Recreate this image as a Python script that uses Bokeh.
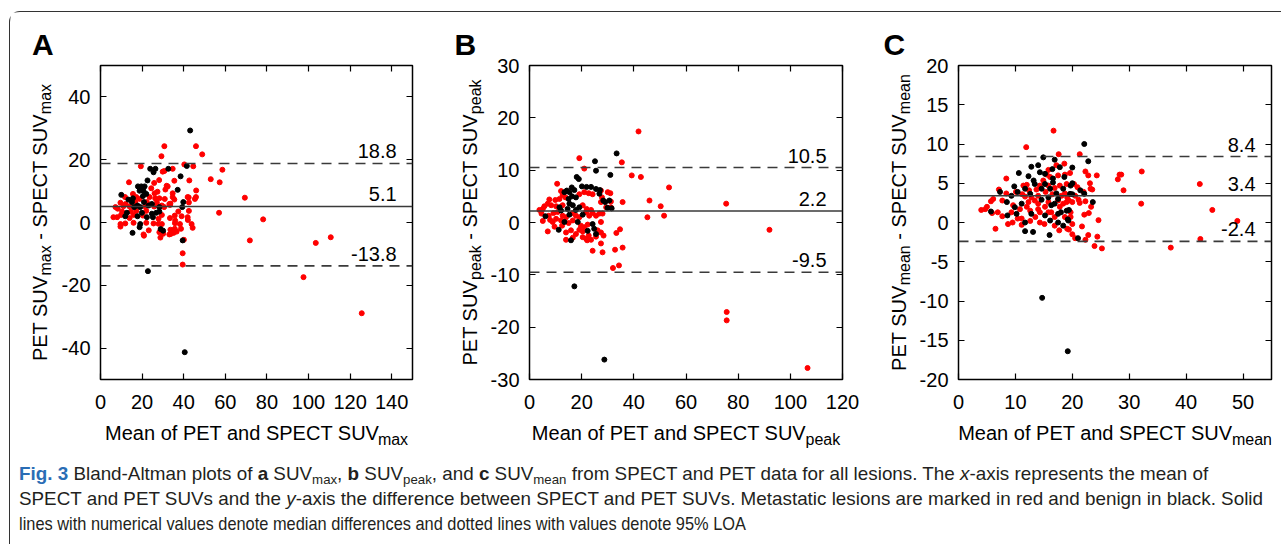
from bokeh.plotting import figure
from bokeh.models import Label, Span, LinearAxis, FixedTicker, Div, Range1d
from bokeh.layouts import row, column
from bokeh.embed import file_html
from bokeh.resources import INLINE

# ---------------- data ----------------
A_METASTATIC = [
    (125.6, -28.9), (97.6, -17.4), (103.5, -6.5), (110.7, -4.7), (69.4, 7.9), (78.2, 1.0), (71.8, -5.7),
    (57.0, 3.1), (57.3, 12.8), (53.0, 13.8), (58.6, 16.8), (48.9, 21.7), (45.9, 24.3), (30.7, 24.3),
    (29.3, 21.1), (44.6, 17.9), (46.0, 10.2), (45.9, 8.1), (42.7, 13.4), (42.4, 8.0), (42.5, 6.4),
    (42.5, 3.7), (42.0, 0.8), (44.3, -1.7), (40.1, -5.5), (39.5, -9.8), (39.5, -13.4), (38.7, -2.0),
    (35.7, -2.0), (35.9, 0.6), (35.7, 2.2), (33.6, -2.3), (33.1, -3.8), (35.2, -3.3), (28.8, -4.8),
    (30.1, -3.6), (23.2, -2.5), (20.9, -4.2), (9.6, -1.3), (6.2, 1.7), (35.5, 7.3), (35.5, 13.3),
    (34.7, 8.1), (33.6, 6.0), (31.2, 10.5), (31.8, 11.7), (30.7, 16.4), (28.2, 13.5), (27.4, 9.8),
    (19.4, 17.9), (13.7, 12.8), (40.3, 18.5), (29.9, 16.2), (34.7, 17.1), (25.8, 12.6), (24.4, 10.9),
    (32.3, 11.5), (15.6, 9.1), (26.0, 9.3), (34.7, 9.3), (41.9, 8.1), (11.8, 8.1), (17.2, 8.1),
    (18.8, 7.5), (23.6, 8.1), (26.3, 7.7), (28.3, 7.7), (30.9, 7.5), (33.1, 5.9), (45.4, 7.5),
    (9.6, 6.3), (12.1, 5.9), (16.7, 6.5), (22.3, 6.5), (27.1, 6.3), (29.5, 5.4), (33.4, 5.6),
    (7.2, 4.9), (11.1, 5.2), (14.0, 5.1), (21.5, 5.1), (25.8, 5.1), (30.6, 4.9), (8.3, 4.4),
    (10.4, 3.5), (14.6, 3.5), (17.2, 3.7), (22.0, 3.7), (29.5, 2.4), (37.4, 3.5), (39.0, 2.0),
    (8.0, 1.7), (9.9, 2.4), (14.0, 1.4), (15.9, 2.4), (20.4, 2.2), (27.9, 1.2), (33.4, 1.4),
    (41.9, 1.7), (9.6, -0.5), (11.9, -0.3), (15.9, -0.1), (22.0, -0.1), (25.5, -0.3), (27.9, -0.4),
    (29.5, -0.5), (35.8, -0.2), (38.2, -0.5), (43.8, -0.5), (20.7, -3.8), (28.3, -3.1), (29.9, -3.1),
    (33.9, -3.6), (36.6, -2.9),
]
A_BENIGN = [
    (43.1, 29.3), (40.5, -41.3), (22.8, -15.5), (39.5, -5.7), (41.5, 18.0), (38.5, 14.7), (37.1, 10.4),
    (23.9, 17.1), (26.4, 17.1), (32.6, 17.1), (25.5, 16.0), (22.6, 13.4), (18.0, 11.5), (19.6, 11.5),
    (21.2, 11.5), (10.0, 8.8), (18.8, 10.1), (20.7, 10.0), (22.0, 9.1), (13.4, 7.3), (15.6, 7.7),
    (20.4, 8.4), (39.8, 6.5), (15.1, 6.5), (20.9, 6.5), (24.7, 5.9), (16.2, 4.9), (17.8, 5.4),
    (19.1, 4.9), (23.1, 5.4), (28.3, 4.9), (39.3, 4.9), (12.7, 3.1), (19.9, 3.1), (24.7, 2.8),
    (26.8, 3.1), (28.3, 3.5), (11.9, 2.0), (17.8, 2.0), (22.3, 1.7), (25.2, 1.7), (19.1, -0.5),
    (15.4, -3.3), (18.8, -1.5), (30.1, -2.6), (28.9, -2.1),
]
A_LINES = [18.8, 5.1, -13.8]          # upper LOA, median, lower LOA
A_XRANGE = (0, 150)
A_YRANGE = (-50, 50)
A_XTICKS = [0, 20, 40, 60, 80, 100, 120, 140]
A_YTICKS = [-40, -20, 0, 20, 40]

B_METASTATIC = [
    (41.8, 17.4), (19.1, 12.3), (21.0, 10.3), (35.4, 11.5), (39.2, 9.0), (42.7, 8.7), (53.5, 6.7),
    (46.0, 4.2), (35.7, 3.9), (50.3, 3.1), (51.6, 1.3), (45.2, 1.0), (75.4, 3.6), (92.0, -1.4),
    (75.6, -17.1), (75.6, -18.7), (106.6, -27.8), (32.0, -8.7), (34.3, -8.2), (32.8, -5.2),
    (35.7, -4.8), (28.0, -5.7), (24.2, -5.4), (27.4, -4.0), (33.3, -2.0), (34.7, -1.3), (28.4, -2.5),
    (29.4, 2.9), (31.2, 4.0), (31.0, 5.6), (30.0, 5.8), (27.4, 6.1), (28.0, 1.7), (27.4, 0.1),
    (14.0, -3.3), (16.6, -2.9), (20.4, -2.8), (22.1, -3.4), (10.6, 7.4), (7.6, 4.4), (7.0, -1.7),
    (12.1, 6.0), (12.7, 5.2), (13.8, 4.8), (11.5, 4.5), (9.9, 4.3), (22.7, 5.6), (24.2, 5.4),
    (21.0, 5.8), (19.1, 5.4), (27.8, 4.8), (27.4, 3.9), (7.0, 3.6), (5.7, 3.1), (5.1, 2.6),
    (3.8, 2.4), (4.6, 1.7), (7.4, 1.3), (7.9, 0.5), (5.1, 0.3), (8.9, 0.1), (9.6, -0.8),
    (8.3, 3.3), (10.2, 3.1), (12.7, 3.3), (20.4, 3.3), (21.9, 2.6), (23.6, 2.4), (24.2, 1.8),
    (25.5, 1.3), (26.8, 1.7), (31.2, 2.9), (9.2, 1.8), (10.8, 2.0), (12.7, 1.3), (14.0, 1.0),
    (16.6, 1.8), (17.8, 1.3), (19.1, 1.0), (21.7, 2.0), (22.9, 1.3), (10.2, 0.7), (12.1, 0.4),
    (15.0, -0.1), (16.6, 0.4), (19.7, -0.6), (21.0, -0.9), (22.3, -0.4), (26.1, -1.5), (12.5, -0.6),
    (14.0, -1.9), (15.9, -1.5), (17.8, -2.2), (19.1, -1.4), (20.4, -1.7), (22.7, -2.5), (27.4, -1.9),
    (21.7, -3.1), (23.6, -3.3), (25.5, -2.7),
]
B_BENIGN = [
    (33.4, 13.2), (25.1, 11.7), (25.5, 9.9), (31.0, 9.1), (18.1, 8.7), (18.9, 8.3), (17.2, -12.2),
    (28.7, -26.2), (31.5, 2.7), (29.0, 3.9), (16.2, 6.7), (20.1, 6.9), (21.9, 6.8), (23.6, 6.8),
    (25.5, 6.4), (27.0, 6.2), (17.2, 6.2), (14.3, 6.1), (15.3, 5.8), (13.4, 5.8), (17.8, 4.8),
    (16.3, 5.0), (15.0, 4.5), (28.3, 4.2), (30.6, 4.2), (26.8, 5.5), (6.1, 1.2), (11.5, 2.9),
    (12.1, 2.3), (14.6, 2.6), (15.3, 3.6), (16.6, 3.3), (17.8, 2.4), (19.1, 2.9), (29.9, 2.8),
    (15.3, 1.5), (20.4, 1.5), (13.4, 0.1), (18.5, 0.1), (24.2, -0.3), (24.8, -1.2), (11.2, -1.4),
    (25.5, -2.2), (15.9, -3.4), (22.3, -1.6),
]
B_LINES = [10.5, 2.2, -9.5]
B_XRANGE = (0, 120)
B_YRANGE = (-30, 30)
B_XTICKS = [0, 20, 40, 60, 80, 100, 120]
B_YTICKS = [-30, -20, -10, 0, 10, 20, 30]

C_METASTATIC = [
    (16.7, 11.7), (11.9, 9.6), (17.6, 8.7), (21.3, 8.7), (28.0, 5.5), (28.3, 6.1), (28.6, 6.1),
    (29.0, 4.1), (32.2, 6.5), (32.1, 2.4), (37.3, -3.2), (42.4, 4.9), (42.5, -2.1), (44.6, 1.6),
    (49.0, 0.2), (24.3, 6.0), (24.6, 0.3), (24.4, -1.8), (25.2, -3.3), (23.9, -3.0), (4.0, 1.6),
    (5.0, 2.0), (5.7, 2.7), (5.9, 1.2), (6.5, -0.8), (6.9, 1.3), (7.1, 4.2), (7.7, 2.8), (8.4, 5.6),
    (8.4, 3.7), (8.7, -0.2), (17.2, 7.3), (18.6, 7.5), (15.8, 6.7), (15.5, 6.1), (16.1, 5.8),
    (17.5, 6.0), (18.7, 6.1), (10.1, 3.9), (11.4, 4.7), (12.0, 4.8), (12.4, 4.1), (13.7, 4.2),
    (14.3, 4.7), (14.9, 5.35), (15.8, 4.7), (16.9, 4.4), (17.8, 4.7), (19.0, 4.9), (11.2, 3.6),
    (11.7, 3.3), (12.8, 3.2), (14.0, 3.4), (15.3, 3.9), (16.5, 3.6), (18.1, 3.4), (18.7, 3.7),
    (19.1, 3.2), (6.1, 3.0), (4.7, 1.7), (9.6, 2.2), (10.8, 1.7), (12.0, 2.0), (12.3, 2.6),
    (13.4, 2.8), (14.0, 2.4), (15.2, 2.0), (15.8, 2.6), (17.5, 2.8), (17.8, 2.0), (18.4, 2.4),
    (19.0, 2.6), (7.7, 0.8), (9.3, 1.3), (10.4, 0.5), (11.1, 0.5), (12.6, 1.5), (14.0, 1.7),
    (14.3, 1.3), (15.8, 1.3), (16.3, 1.3), (16.9, 0.7), (18.7, 0.7), (9.5, 0.0), (11.1, -0.3),
    (12.6, 0.2), (13.5, 0.7), (14.3, 0.0), (15.1, -0.2), (16.9, -0.4), (19.1, -0.8), (17.7, -1.0),
    (19.6, 6.3), (22.3, 6.5), (22.8, 6.0), (23.1, 5.0), (23.2, 4.3), (23.5, 4.2), (20.3, 4.9),
    (20.9, 4.5), (22.0, 3.9), (20.5, 3.4), (19.4, 2.8), (20.0, 2.6), (21.1, 2.9), (21.3, 2.5),
    (22.3, 2.7), (23.3, 2.0), (19.7, 1.3), (22.1, 1.0), (22.9, 1.2), (19.7, 0.7), (20.0, -0.2),
    (21.7, -0.5), (19.4, -0.9), (20.0, -1.5), (20.5, -2.0), (22.3, -2.2), (22.8, -1.6),
]
C_BENIGN = [
    (14.7, -9.6), (19.2, -16.4), (22.1, 10.0), (22.8, 7.8), (23.6, 2.6), (21.0, -2.0), (16.0, -1.6),
    (11.7, -1.1), (13.1, -1.2), (14.9, 8.3), (16.9, 8.0), (17.8, 7.05), (16.5, 6.8), (15.2, 6.2),
    (12.8, 7.1), (14.0, 7.3), (14.3, 6.4), (16.6, 5.6), (10.6, 6.3), (12.3, 5.9), (13.2, 5.35),
    (7.3, 3.9), (9.8, 4.6), (10.4, 3.9), (11.7, 4.3), (13.4, 4.9), (14.6, 4.3), (15.2, 4.9),
    (16.1, 4.3), (16.6, 5.1), (18.4, 4.3), (9.3, 3.4), (12.6, 3.65), (15.8, 3.2), (17.2, 3.7),
    (17.5, 3.0), (5.7, 1.4), (8.5, 2.6), (9.9, 1.95), (11.1, 2.4), (14.6, 2.9), (16.3, 2.2),
    (16.9, 2.4), (8.6, 0.9), (10.2, 1.1), (12.8, 1.1), (15.2, 0.9), (17.5, 1.1), (18.0, 1.3),
    (19.0, 1.5), (11.7, 0.0), (16.1, 0.25), (17.5, 0.0), (18.4, -0.4), (19.3, 0.25), (20.0, 7.0),
    (20.0, 5.0), (19.7, 4.7), (21.4, 4.1), (22.1, 3.65), (19.6, 3.65), (20.0, 3.6), (19.4, 1.6),
    (18.6, 5.8), (19.2, 0.4),
]
C_LINES = [8.4, 3.4, -2.4]
C_XRANGE = (0, 55)
C_YRANGE = (-20, 20)
C_XTICKS = [0, 10, 20, 30, 40, 50]
C_YTICKS = [-20, -15, -10, -5, 0, 5, 10, 15, 20]

# ---------------- layout constants ----------------
FRAME = 314          # plot box size in px
TOP = 53             # space above the plot box
MAIN_BOTTOM = 40     # space below the plot box (tick labels)
XT_H = 41            # strip holding the x-axis title
SL = 48              # strip holding the y-axis title and the panel letter
FULL_H = TOP + FRAME + MAIN_BOTTOM + XT_H
FONT = "Liberation Sans"
RED = "#ff0000"
LINE_COL = "#3a3a3a"

ARIAL = {' ': 278, '-': 333, 'C': 722, 'E': 667, 'M': 833, 'P': 667, 'S': 667, 'T': 611, 'U': 722,
         'V': 667, 'a': 556, 'd': 556, 'e': 556, 'f': 278, 'k': 500, 'm': 833, 'n': 556, 'o': 556,
         'p': 556, 'x': 500}


def tw(s, size):
    return sum(ARIAL.get(c, 556) for c in s) * size / 1000.0


def mid(size):
    # distance from the alphabetic baseline to the middle of the text box
    return 0.35 * size


def strip(w, h, left=0, right=0, xspan=None):
    f = figure(width=w, height=h, x_range=Range1d(0, xspan if xspan else w), y_range=Range1d(0, h),
               x_axis_type=None, y_axis_type=None, toolbar_location=None,
               output_backend="svg", min_border=0, title=None,
               min_border_left=left, min_border_right=right, min_border_top=0, min_border_bottom=0)
    f.outline_line_color = None
    f.background_fill_color = "white"
    f.border_fill_color = "white"
    return f


def text(f, x, y, s, size, angle=0, align="left", bold=False):
    f.add_layout(Label(x=x, y=y, text=s, angle=angle, angle_units="deg", text_font=FONT,
                       text_font_size=f"{size}px", text_align=align, text_baseline="middle",
                       text_color="black", text_font_style="bold" if bold else "normal"))


def panel(letter, met, ben, lines, xr, yr, xticks, yticks, sub, left, right, letter_x):
    p = figure(width=left + FRAME + right, height=TOP + FRAME + MAIN_BOTTOM,
               x_range=Range1d(*xr), y_range=Range1d(*yr),
               output_backend="svg", toolbar_location=None, title=None,
               min_border_left=left, min_border_right=right,
               min_border_top=TOP, min_border_bottom=MAIN_BOTTOM)
    p.grid.visible = False
    p.outline_line_color = "black"
    p.outline_line_width = 1.5
    p.background_fill_color = "white"
    p.border_fill_color = "white"

    def style(ax, ticks, labels):
        ax.ticker = FixedTicker(ticks=ticks)
        ax.axis_line_color = None
        ax.major_tick_in = 6
        ax.major_tick_out = 0
        ax.minor_tick_line_color = None
        ax.major_tick_line_color = "black"
        ax.major_tick_line_width = 1.2
        if labels:
            ax.major_label_text_font = FONT
            ax.major_label_text_font_size = "20px"
            ax.major_label_text_color = "black"
            ax.major_label_overrides = {t: str(t) for t in ticks}
        else:
            ax.major_label_text_font_size = "0px"
            ax.major_label_text_alpha = 0
            ax.major_label_standoff = 0

    for ax in p.xaxis:
        style(ax, xticks, True)
        ax.major_label_standoff = 15
    for ax in p.yaxis:
        style(ax, yticks, True)
        ax.major_label_standoff = 10
    top_ax = LinearAxis()
    style(top_ax, xticks, False)
    p.add_layout(top_ax, "above")
    right_ax = LinearAxis()
    style(right_ax, yticks, False)
    p.add_layout(right_ax, "right")

    dy = (yr[1] - yr[0]) / FRAME
    dx = (xr[1] - xr[0]) / FRAME
    # reference lines (LOA dashed, median solid) with their values
    for i, v in enumerate(lines):
        dash = "solid" if i == 1 else "10 7"
        p.add_layout(Span(location=v, dimension="width", line_color=LINE_COL,
                          line_width=1.6, line_dash=dash))
        p.add_layout(Label(x=xr[1] - 16 * dx, y=v + (5 + mid(20)) * dy, text=f"{v:.1f}",
                           text_align="right", text_baseline="middle", text_font=FONT,
                           text_font_size="20px", text_color="black"))

    # points: metastatic red, benign black
    p.scatter(x=[a for a, b in met], y=[b for a, b in met], size=5, color=RED, marker="circle")
    p.scatter(x=[a for a, b in ben], y=[b for a, b in ben], size=5, color="black", marker="circle")

    # x-axis title strip (frame lines up with the plot box), with subscript
    xt = strip(left + FRAME + right, XT_H, left=left, right=right, xspan=FRAME)
    main = "Mean of PET and SPECT SUV"
    W = tw(main, 20) + tw(sub, 16)
    x0 = FRAME / 2 - W / 2
    base = XT_H - 20.5
    text(xt, x0, base + mid(20), main, 20)
    text(xt, x0 + tw(main, 20), base - 5 + mid(16), sub, 16)

    # y-axis title strip (rotated, with subscripts) + panel letter
    ys = strip(SL, FULL_H)
    base_x = SL + left - 52
    segs = [("PET SUV", 20, 0), (sub, 16, 5), (" - SPECT SUV", 20, 0), (sub, 16, 5)]
    W = sum(tw(s, f) for s, f, _ in segs)
    pos = FULL_H - TOP - FRAME / 2 - W / 2
    for s, f, dn in segs:
        body = s.lstrip()
        lead = tw(s[:len(s) - len(body)], f)
        text(ys, base_x + dn - mid(f), pos + lead, body, f, angle=90)
        pos += tw(s, f)
    text(ys, letter_x, FULL_H - 42.5 + mid(30), letter, 30, bold=True)

    return row(ys, column(p, xt))


pA = panel("A", A_METASTATIC, A_BENIGN, A_LINES, A_XRANGE, A_YRANGE, A_XTICKS, A_YTICKS,
           "max", 40, 27, 21.5)
pB = panel("B", B_METASTATIC, B_BENIGN, B_LINES, B_XRANGE, B_YRANGE, B_XTICKS, B_YTICKS,
           "peak", 41, 26, 15)
pC = panel("C", C_METASTATIC, C_BENIGN, C_LINES, C_XRANGE, C_YRANGE, C_XTICKS, C_YTICKS,
           "mean", 41, 9, 15)

SUB = "font-size:13px;line-height:0;vertical-align:-4px"
LINE = ("display:block;white-space:nowrap;transform-origin:0 50%;"
        "transform:scaleX({k})")
caption_html = (
    "<div style=\"font-family:'Liberation Sans',sans-serif;font-size:18.5px;"
    "line-height:25px;color:#231f20;padding-left:4px;margin-top:-4px\">"
    f"<div style='{LINE.format(k=1.018)}'>"
    "<span style='color:#2a6db5;font-weight:bold'>Fig. 3</span> Bland-Altman plots of <b>a</b> "
    f"SUV<span style='{SUB}'>max</span>, <b>b</b> SUV<span style='{SUB}'>peak</span>, and <b>c</b> "
    f"SUV<span style='{SUB}'>mean</span> from SPECT and PET data for all lesions. The <i>x</i>-axis "
    "represents the mean of</div>"
    f"<div style='{LINE.format(k=1.018)}'>SPECT and PET SUVs and the <i>y</i>-axis the difference "
    "between SPECT and PET SUVs. Metastatic lesions are marked in red and benign in black. Solid</div>"
    f"<div style='{LINE.format(k=0.885)}'>lines with numerical values denote median differences and "
    "dotted lines with values denote 95% LOA</div></div>"
)
caption = Div(text=caption_html, width=1270, height=75)

layout = column(row(pA, pB, pC), caption,
                styles={"margin-left": "9px", "margin-top": "11px",
                        "border-top": "1.5px solid #333", "border-left": "1.5px solid #333",
                        "border-top-left-radius": "11px"})

open("out.html", "w").write(file_html(layout, INLINE))
